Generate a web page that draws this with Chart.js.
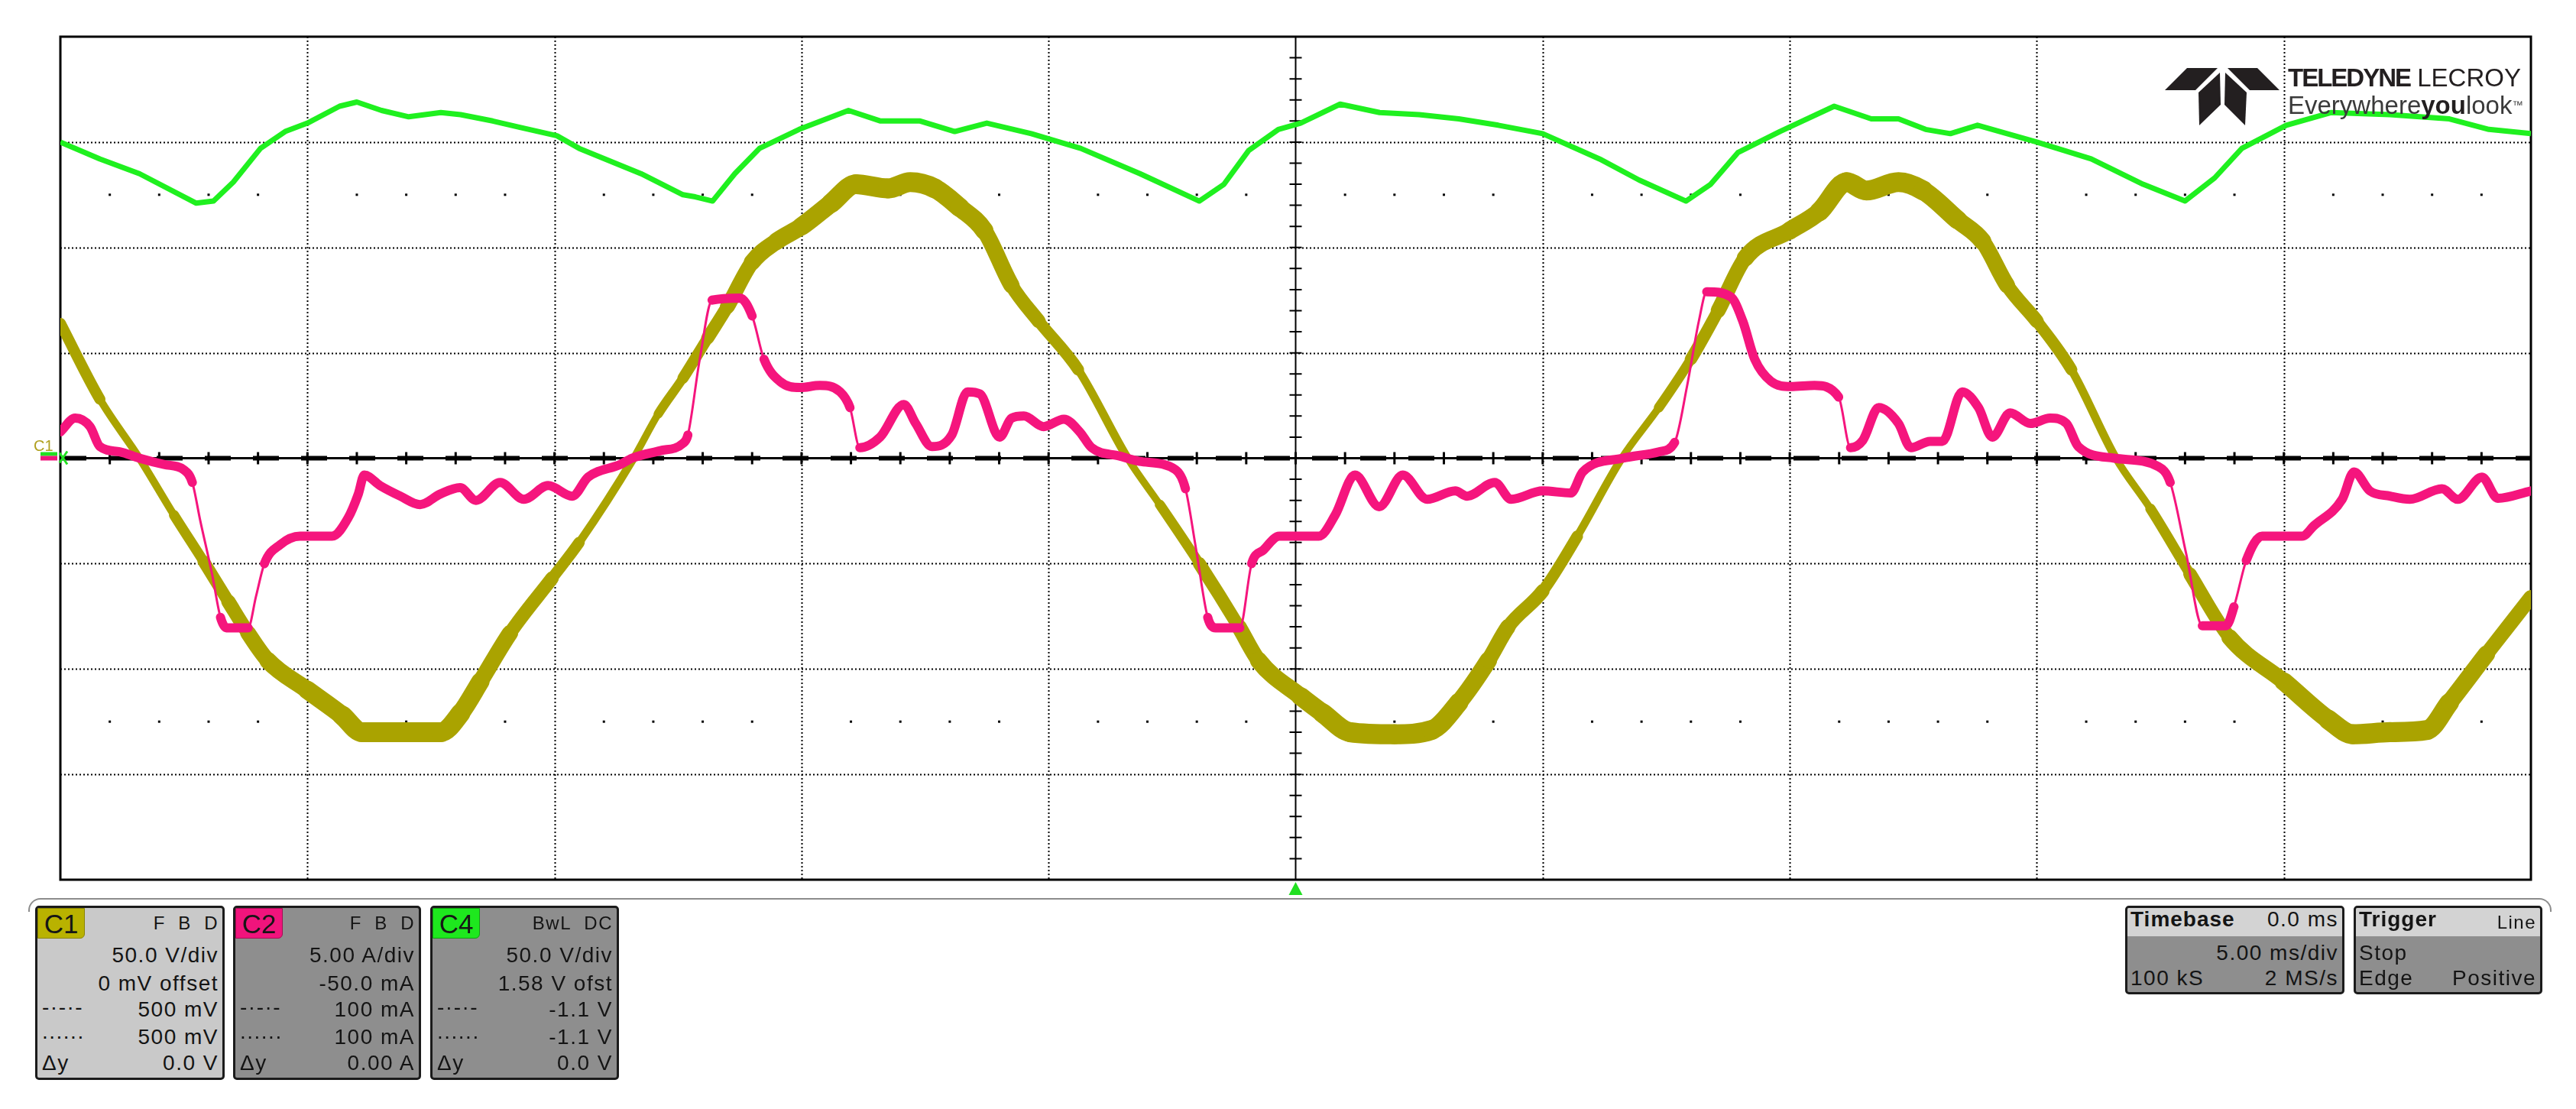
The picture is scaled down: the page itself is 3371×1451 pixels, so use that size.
<!DOCTYPE html>
<html lang="en">
<head>
<meta charset="UTF-8">
<title>Teledyne LeCroy - C1 / C2 / C4</title>
<script src="https://cdn.jsdelivr.net/npm/chart.js"></script>
<style>
    body {
        margin: 0;
        background: #fff;
        font-family: "Liberation Sans", Arial, sans-serif;
        overflow: hidden;
    }
    #wrap { position: relative; width: 3371px; height: 1451px; }
    #scope { position: absolute; left: 0; top: 0; }
    .abs { position: absolute; white-space: nowrap; }
    .frame {
        position: absolute; left: 37px; top: 1175px; width: 3302px; height: 18px;
        box-sizing: border-box; border: 2px solid #8c8c8c; border-bottom: none;
        border-radius: 16px 16px 0 0;
    }
    .box {
        position: absolute; top: 1185px; box-sizing: border-box;
        border: 3px solid #1b1b1b; border-radius: 5px; overflow: hidden;
        background: #8e8e8e; color: #141414;
    }
    .box.light { background: #c9c9c9; }
    .badge {
        position: absolute; left: 0; top: 0; width: 62px; height: 40px;
        box-sizing: border-box; border-radius: 0 0 6px 0;
        font-size: 35px; line-height: 40px; text-align: center; color: #161616;
    }
    .row { position: absolute; font-size: 28px; line-height: 28px; letter-spacing: 1.5px; white-space: nowrap; }
    .r { right: 5px; }
    .l { left: 6px; }
    .hdr { position: absolute; right: 5px; top: 8px; font-size: 24px; line-height: 24px; letter-spacing: 1.5px; }
    .band { position: absolute; left: 0; top: 0; right: 0; height: 37px; background: #d3d3d3; }
    .bold { font-weight: bold; letter-spacing: 1px; }
</style>
</head>
<body>
<div id="wrap">
    <canvas id="scope" width="3371" height="1451"></canvas>

    <!-- logo -->
    <svg class="abs" style="left:2830px;top:82px;" width="165" height="85">
        <g fill="#231f20">
            <polygon points="3,36 32,7 72,7 43,36"/>
            <polygon points="47,39 75,13 76,55 48,82"/>
            <polygon points="110,39 82,13 81,55 108,82"/>
            <polygon points="153,36 124,7 85,7 114,36"/>
        </g>
    </svg>
    <div class="abs" style="left:2994px;top:85px;font-size:33px;line-height:33px;color:#231f20;">
        <span style="font-weight:bold;letter-spacing:-2px;">TELEDYNE</span> LECROY
    </div>
    <div class="abs" style="left:2994px;top:121px;font-size:33px;line-height:33px;color:#3a3a3a;">
        Everywhere<b style="color:#231f20;">you</b>look<span style="font-size:14px;vertical-align:top;">™</span>
    </div>

    <!-- ground level label -->
    <div class="abs" style="left:44px;top:573px;font-size:20px;line-height:20px;color:#b0a020;">C1</div>

    <!-- bottom info panel -->
    <div class="frame"></div>

    <div class="box light" style="left:46px;width:248px;height:228px;">
        <div class="badge" style="background:#b9b200;border:1px solid #8a8400;">C1</div>
        <div class="hdr">F&nbsp;&nbsp;B&nbsp;&nbsp;D</div>
        <div class="row r" style="top:48px;">50.0 V/div</div>
        <div class="row r" style="top:85px;">0 mV offset</div>
        <div class="row l" style="top:116px;">-·-·-</div>
        <div class="row r" style="top:119px;">500 mV</div>
        <div class="row l" style="top:148px;">......</div>
        <div class="row r" style="top:155px;">500 mV</div>
        <div class="row l" style="top:189px;">Δy</div>
        <div class="row r" style="top:189px;">0.0 V</div>
    </div>

    <div class="box" style="left:305px;width:246px;height:228px;">
        <div class="badge" style="background:#f0147c;border:1px solid #a80c55;">C2</div>
        <div class="hdr">F&nbsp;&nbsp;B&nbsp;&nbsp;D</div>
        <div class="row r" style="top:48px;">5.00 A/div</div>
        <div class="row r" style="top:85px;">-50.0 mA</div>
        <div class="row l" style="top:116px;">-·-·-</div>
        <div class="row r" style="top:119px;">100 mA</div>
        <div class="row l" style="top:148px;">......</div>
        <div class="row r" style="top:155px;">100 mA</div>
        <div class="row l" style="top:189px;">Δy</div>
        <div class="row r" style="top:189px;">0.00 A</div>
    </div>

    <div class="box" style="left:563px;width:247px;height:228px;">
        <div class="badge" style="background:#1ee81e;border:1px solid #12a012;">C4</div>
        <div class="hdr">BwL&nbsp;&nbsp;DC</div>
        <div class="row r" style="top:48px;">50.0 V/div</div>
        <div class="row r" style="top:85px;">1.58 V ofst</div>
        <div class="row l" style="top:116px;">-·-·-</div>
        <div class="row r" style="top:119px;">-1.1 V</div>
        <div class="row l" style="top:148px;">......</div>
        <div class="row r" style="top:155px;">-1.1 V</div>
        <div class="row l" style="top:189px;">Δy</div>
        <div class="row r" style="top:189px;">0.0 V</div>
    </div>

    <div class="box" style="left:2781px;width:287px;height:116px;">
        <div class="band"></div>
        <div class="row l bold" style="top:1px;left:4px;">Timebase</div>
        <div class="row r" style="top:1px;">0.0 ms</div>
        <div class="row r" style="top:45px;">5.00 ms/div</div>
        <div class="row l" style="top:78px;left:4px;">100 kS</div>
        <div class="row r" style="top:78px;">2 MS/s</div>
    </div>

    <div class="box" style="left:3080px;width:247px;height:116px;">
        <div class="band"></div>
        <div class="row l bold" style="top:1px;left:4px;">Trigger</div>
        <div class="hdr" style="top:7px;">Line</div>
        <div class="row l" style="top:45px;left:4px;">Stop</div>
        <div class="row l" style="top:78px;left:4px;">Edge</div>
        <div class="row r" style="top:78px;">Positive</div>
    </div>
</div>

<script>
    // time in ms (5 ms/div, trigger at 0)
    var c1Time  = [-25, -24.2, -23.4, -22.7, -22.1, -21.6, -21.2, -20.8, -20.0, -19.3,
                   -18.9, -18.1, -17.3, -16.9, -16.5, -15.9, -15.05, -14.5, -13.4, -12.9,
                   -12.4, -11.9, -11.5, -11.0, -10.5, -10.0, -9.4, -8.9, -8.25, -7.8,
                   -7.3, -6.8, -6.3, -5.75, -5.2, -4.4, -3.4, -2.75, -1.95, -1.15,
                   -0.75, 0.1, 0.55, 1.1, 2.0, 2.75, 3.3, 3.9, 4.3, 5.0,
                   5.7, 6.6, 7.35, 8.0, 8.55, 9.1, 10.0, 10.6, 11.15, 11.55,
                   12.2, 12.7, 13.4, 13.9, 14.4, 15.0, 15.7, 16.6, 17.3, 18.1,
                   18.9, 20.0, 20.9, 21.4, 22.15, 22.9, 23.35, 24.1, 25.0];
    var c1Volts = [64, 28, 0, -27, -49, -68, -83, -96, -110, -122,
                   -130, -130, -130, -121, -106, -83, -57, -40, 0, 21,
                   38, 57, 72, 93, 103, 110, 121, 130, 128, 131,
                   128, 119, 108, 82, 65, 42, 0, -22, -50, -80,
                   -96, -113, -121, -130, -131, -129, -116, -96, -80, -63,
                   -37, 0, 24, 47, 70, 95, 108, 117, 131, 127,
                   131, 127, 113, 103, 82, 65, 42, 0, -24, -55,
                   -85, -106, -124, -131, -130, -129, -116, -93, -66];

    var c2Time = [-25.0, -24.7, -24.4, -24.2, -23.8, -23.4, -22.9, -22.5, -22.33, -22.17,
                  -21.93, -21.76, -21.64, -21.2, -21.04, -20.87, -20.55, -20.15, -19.5, -19.18,
                  -18.97, -18.85, -18.53, -18.12, -17.72, -17.31, -16.91, -16.59, -16.1, -15.62,
                  -15.13, -14.64, -14.32, -13.67, -13.43, -12.87, -12.4, -12.3, -12.06, -11.81,
                  -11.25, -11.0, -10.76, -10.44, -10.03, -9.63, -9.22, -9.02, -8.82, -8.41,
                  -7.93, -7.69, -7.36, -6.96, -6.64, -6.39, -5.99, -5.75, -5.5, -5.1,
                  -4.69, -4.37, -4.13, -3.56, -3.16, -2.43, -2.23, -2.02, -1.78, -1.62,
                  -1.13, -0.89, -0.65, -0.33, 0.47, 0.8, 1.2, 1.69, 2.17, 2.66,
                  3.23, 3.47, 4.03, 4.36, 5.0, 5.57, 5.81, 6.62, 7.35, 7.67,
                  7.92, 8.16, 8.32, 8.81, 9.05, 9.29, 9.62, 10.02, 10.5, 10.99,
                  11.23, 11.48, 11.8, 12.2, 12.45, 12.84, 13.09, 13.49, 13.82, 14.1,
                  14.46, 14.87, 15.27, 15.6, 15.84, 16.57, 17.46, 17.7, 18.02, 18.35,
                  18.83, 18.99, 19.24, 19.56, 20.37, 20.61, 21.18, 21.42, 21.74, 22.15,
                  22.55, 23.2, 23.52, 24.01, 24.33, 25.0];
    var c2Amps = [1.25, 1.9, 1.5, 0.55, 0.3, 0, -0.3, -0.55, -1.15, -2.95,
                  -5.5, -7.55, -8.05, -8.05, -6.55, -5.0, -4.1, -3.7, -3.7, -2.85,
                  -1.7, -0.8, -1.3, -1.8, -2.2, -1.7, -1.4, -2.0, -1.15, -1.95,
                  -1.3, -1.8, -0.9, -0.3, 0, 0.35, 0.7, 1.1, 4.7, 7.5,
                  7.6, 6.75, 4.7, 3.65, 3.35, 3.45, 3.15, 2.4, 0.5, 1.0,
                  2.55, 1.65, 0.55, 1.1, 3.15, 3.05, 1.0, 1.9, 2.0, 1.5,
                  1.85, 1.25, 0.5, 0.1, -0.15, -0.55, -1.45, -4.25, -7.55, -8.05,
                  -8.05, -5.0, -4.35, -3.7, -3.7, -2.7, -0.8, -2.3, -0.8, -1.95,
                  -1.55, -1.8, -1.15, -1.95, -1.55, -1.65, -0.65, 0, 0.3, 0.75,
                  3.4, 6.5, 7.9, 7.65, 6.5, 4.7, 3.65, 3.4, 3.45, 2.9,
                  0.5, 0.85, 2.4, 1.65, 0.5, 0.8, 0.8, 3.15, 2.4, 1.0,
                  2.15, 1.65, 1.9, 1.65, 0.55, 0, -0.4, -1.15, -4.5, -7.95,
                  -7.95, -7.05, -4.85, -3.7, -3.7, -3.2, -1.95, -0.65, -1.55, -1.8,
                  -1.95, -1.45, -1.95, -0.9, -1.9, -1.55];

    var c4Time  = [-25, -24.2, -23.4, -22.25, -21.9, -21.5, -20.95, -20.45, -20.0, -19.35,
                   -19.0, -18.5, -17.95, -17.3, -16.9, -16.25, -15.7, -14.95, -14.5, -13.25,
                   -12.4, -12.15, -11.8, -11.35, -10.85, -10.05, -9.05, -8.4, -7.6, -6.9,
                   -6.25, -5.35, -4.35, -3.15, -1.95, -1.45, -0.95, -0.35, 0.1, 0.9,
                   1.7, 2.5, 3.3, 4.1, 5.0, 6.15, 6.95, 7.9, 8.4, 8.95,
                   9.8, 10.9, 11.65, 12.2, 12.75, 13.25, 13.8, 15.0, 16.1, 17.15,
                   18.0, 18.6, 19.15, 20.05, 20.95, 22.15, 23.35, 24.15, 25.0];
    var c4Volts = [150, 142, 135, 121, 122, 131, 147, 155, 159, 167,
                   169, 165, 162, 164, 163, 160, 157, 153, 147, 135,
                   125, 124, 122, 135, 147, 156, 165, 160, 160, 155,
                   159, 154, 147, 135, 122, 130, 146, 156, 159, 168,
                   164, 163, 161, 158, 154, 142, 132, 122, 130, 145,
                   155, 167, 161, 161, 156, 154, 158, 150, 142, 130,
                   122, 133, 147, 158, 164, 163, 161, 156, 154];

    // scope settings
    var timePerDiv = 5;      // ms/div
    var voltsPerDiv = 50;    // C1, C4
    var ampsPerDiv = 5;      // C2
    var xDivs = 10, yDivs = 8;

    function pairs(xs, ys) {
        return xs.map(function (x, i) { return { x: x, y: ys[i] }; });
    }

    var scopeGrid = {
        id: 'scopeGrid',
        beforeDatasetsDraw: function (chart) {
            var ctx = chart.ctx, a = chart.chartArea;
            var x = chart.scales.x, y = chart.scales.yC1;
            var half = xDivs / 2 * timePerDiv, vHalf = yDivs / 2 * voltsPerDiv;
            ctx.save();
            ctx.strokeStyle = '#000';
            ctx.fillStyle = '#000';

            // dotted division lines
            ctx.lineWidth = 2;
            ctx.setLineDash([2, 3]);
            ctx.beginPath();
            for (var t = -half + timePerDiv; t < half; t += timePerDiv) {
                if (t === 0) continue;
                var px = Math.round(x.getPixelForValue(t)) + 0.5;
                ctx.moveTo(px, a.top); ctx.lineTo(px, a.bottom);
            }
            for (var v = -vHalf + voltsPerDiv; v < vHalf; v += voltsPerDiv) {
                if (v === 0) continue;
                var py = Math.round(y.getPixelForValue(v)) + 0.5;
                ctx.moveTo(a.left, py); ctx.lineTo(a.right, py);
            }
            ctx.stroke();
            ctx.setLineDash([]);

            // dot rows at +/- 2.5 div
            [2.5, -2.5].forEach(function (d) {
                var py = y.getPixelForValue(d * voltsPerDiv);
                for (var t = -half + 1; t < half; t += 1) {
                    if (t % timePerDiv === 0) continue;
                    ctx.fillRect(x.getPixelForValue(t) - 1.5, py - 1.5, 3, 3);
                }
            });

            // centre cross with minor ticks
            var cx = x.getPixelForValue(0), cy = y.getPixelForValue(0);
            var minorV = voltsPerDiv / 5, minorT = timePerDiv / 5;
            ctx.lineWidth = 2;
            ctx.beginPath();
            ctx.moveTo(cx, a.top); ctx.lineTo(cx, a.bottom);
            for (var v2 = -vHalf + minorV; v2 < vHalf; v2 += minorV) {
                var ty = y.getPixelForValue(v2);
                ctx.moveTo(cx - 8, ty); ctx.lineTo(cx + 8, ty);
            }
            ctx.stroke();

            ctx.lineWidth = 3;
            ctx.beginPath();
            ctx.moveTo(a.left, cy); ctx.lineTo(a.right, cy);
            for (var t2 = -half + minorT; t2 < half; t2 += minorT) {
                var tx = x.getPixelForValue(t2);
                ctx.moveTo(tx, cy - 8); ctx.lineTo(tx, cy + 8);
            }
            ctx.stroke();

            // cursor line on the ground level
            ctx.lineWidth = 6;
            ctx.setLineDash([34, 29]);
            ctx.beginPath();
            ctx.moveTo(a.left, cy); ctx.lineTo(a.right, cy);
            ctx.stroke();
            ctx.setLineDash([]);

            // frame
            ctx.lineWidth = 3;
            ctx.strokeRect(a.left, a.top, a.right - a.left, a.bottom - a.top);
            ctx.restore();
        },
        afterDraw: function (chart) {
            var ctx = chart.ctx, a = chart.chartArea;
            var cx = chart.scales.x.getPixelForValue(0);
            var cy = chart.scales.yC1.getPixelForValue(0);
            ctx.save();
            // trigger position marker
            ctx.fillStyle = '#22e022';
            ctx.beginPath();
            ctx.moveTo(cx, a.bottom + 3);
            ctx.lineTo(cx - 9, a.bottom + 20);
            ctx.lineTo(cx + 9, a.bottom + 20);
            ctx.closePath();
            ctx.fill();
            // ground level markers
            ctx.fillStyle = '#22e022';
            ctx.fillRect(a.left - 26, cy - 8, 22, 5);
            ctx.fillStyle = '#f0147c';
            ctx.fillRect(a.left - 26, cy - 3, 22, 6);
            ctx.strokeStyle = '#22e022';
            ctx.lineWidth = 3;
            ctx.beginPath();
            ctx.moveTo(a.left - 1, cy - 7); ctx.lineTo(a.left + 9, cy + 8);
            ctx.moveTo(a.left + 9, cy - 9); ctx.lineTo(a.left - 1, cy + 6);
            ctx.stroke();
            ctx.restore();
        }
    };

    var scopeChart = new Chart(document.getElementById('scope'), {
        type: 'line',
        data: {
            datasets: [{
                label: 'C2',
                data: pairs(c2Time, c2Amps),
                yAxisID: 'yC2',
                borderColor: '#f5157d',
                borderWidth: 12,
                borderCapStyle: 'round',
                borderJoinStyle: 'round',
                cubicInterpolationMode: 'monotone',
                segment: {
                    borderWidth: function (ctx) {
                        var dy = Math.abs(ctx.p1.parsed.y - ctx.p0.parsed.y);
                        var dx = Math.abs(ctx.p1.parsed.x - ctx.p0.parsed.x) || 0.01;
                        return dy / dx > 8 ? 3 : 12;
                    }
                },
                order: 0
            }, {
                label: 'C1',
                data: pairs(c1Time, c1Volts),
                yAxisID: 'yC1',
                borderColor: '#aaa300',
                borderWidth: 16,
                borderCapStyle: 'round',
                borderJoinStyle: 'round',
                cubicInterpolationMode: 'monotone',
                segment: {
                    borderWidth: function (ctx) {
                        var m = Math.abs(ctx.p0.parsed.y + ctx.p1.parsed.y) / 2 / voltsPerDiv;
                        return 8 + 7 * m;
                    }
                },
                order: 1
            }, {
                label: 'C4',
                data: pairs(c4Time, c4Volts),
                yAxisID: 'yC4',
                borderColor: '#1ff01f',
                borderWidth: 7,
                borderJoinStyle: 'round',
                order: 2
            }]
        },
        options: {
            responsive: false,
            devicePixelRatio: 1,
            animation: false,
            events: [],
            layout: { padding: { left: 79, top: 48, right: 59, bottom: 300 } },
            elements: { point: { radius: 0 }, line: { tension: 0 } },
            scales: {
                x: { type: 'linear', min: -xDivs / 2 * timePerDiv, max: xDivs / 2 * timePerDiv, display: false },
                yC1: { type: 'linear', min: -yDivs / 2 * voltsPerDiv, max: yDivs / 2 * voltsPerDiv, display: false },
                yC2: { type: 'linear', min: -yDivs / 2 * ampsPerDiv, max: yDivs / 2 * ampsPerDiv, display: false },
                yC4: { type: 'linear', min: -yDivs / 2 * voltsPerDiv, max: yDivs / 2 * voltsPerDiv, display: false }
            },
            plugins: {
                legend: { display: false },
                tooltip: { enabled: false }
            }
        },
        plugins: [scopeGrid]
    });
</script>
</body>
</html>
